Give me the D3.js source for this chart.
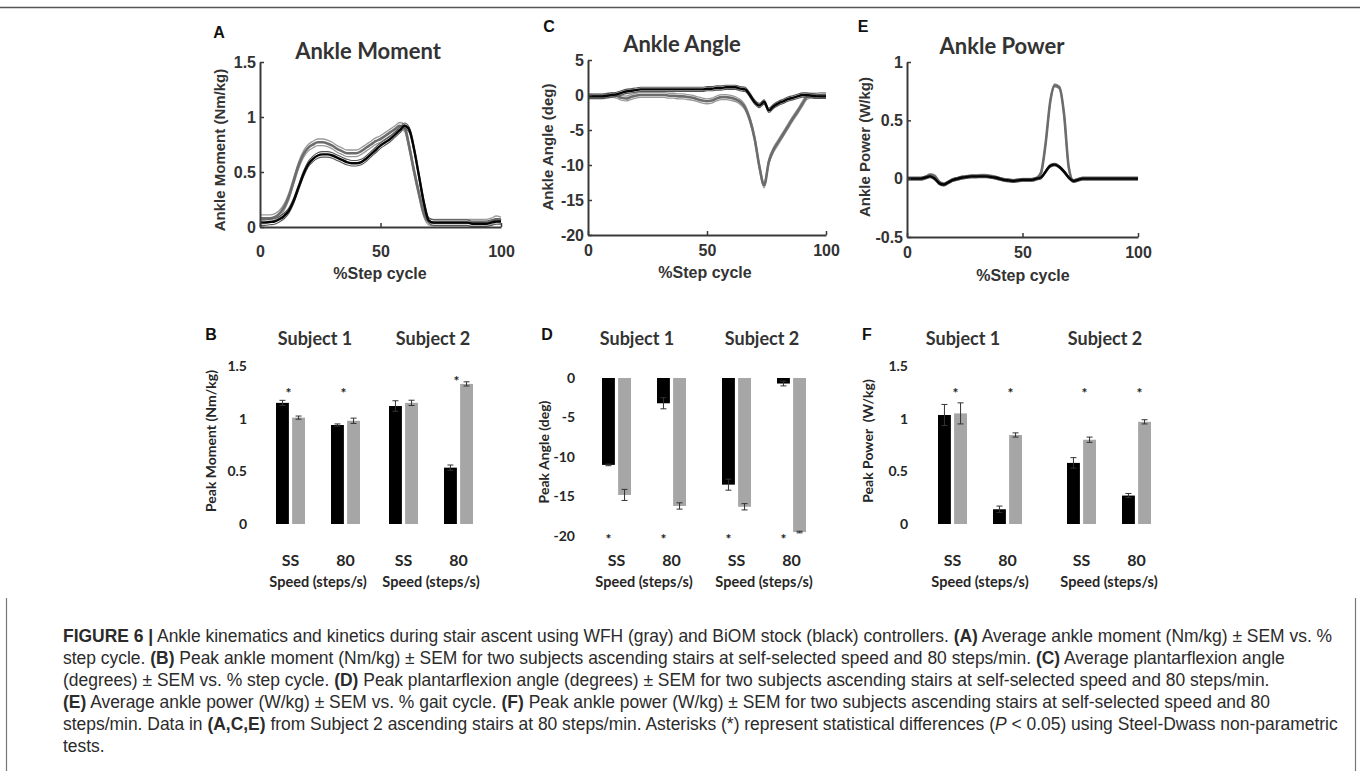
<!DOCTYPE html>
<html><head><meta charset="utf-8">
<script src="https://cdn.jsdelivr.net/npm/d3@7"></script>
<style>body{margin:0;background:#fff}svg{display:block}</style>
</head><body>
<svg id="c" width="1360" height="771"></svg>
<script>
// ---------- DATA ----------
const pct = [0,2,4,6,8,10,12,14,16,18,20,22,24,26,28,30,32,34,36,38,40,42,44,46,48,50,52,54,56,58,60,62,64,66,68,70,72,74,76,78,80,82,84,86,88,90,92,94,96,98,100];

const momentWFH = [0.08,0.08,0.08,0.09,0.12,0.18,0.28,0.42,0.56,0.66,0.72,0.75,0.77,0.77,0.76,0.74,0.71,0.69,0.67,0.67,0.67,0.69,0.72,0.75,0.78,0.80,0.83,0.86,0.89,0.92,0.90,0.72,0.50,0.30,0.12,0.05,0.04,0.04,0.04,0.04,0.04,0.04,0.04,0.04,0.04,0.04,0.04,0.04,0.05,0.07,0.06];
const momentBiOM = [0.04,0.04,0.045,0.05,0.07,0.10,0.15,0.24,0.36,0.48,0.57,0.62,0.65,0.66,0.66,0.65,0.63,0.61,0.59,0.58,0.58,0.59,0.62,0.66,0.70,0.74,0.77,0.80,0.84,0.88,0.92,0.88,0.70,0.46,0.22,0.06,0.04,0.04,0.04,0.04,0.04,0.04,0.04,0.04,0.03,0.03,0.03,0.03,0.04,0.05,0.05];
const momentSEM = {WFH: 0.03, BiOM: 0.025};

const angleWFH = [-0.2,-0.2,-0.2,-0.2,-0.1,0,-0.1,-0.4,-0.5,-0.3,-0.1,0,0,0,0,0,0,-0.1,-0.1,-0.2,-0.2,-0.3,-0.4,-0.6,-0.8,-0.9,-0.8,-0.5,-0.3,-0.3,-0.4,-0.6,-1.0,-1.8,-3.5,-6.2,-10.2,-12.9,-9.5,-7.8,-6.7,-5.6,-4.5,-3.4,-2.4,-1.3,-0.3,-0.1,-0.1,0,0];
const angleBiOM = [-0.2,-0.2,-0.2,-0.2,-0.1,0,0.1,0.3,0.5,0.6,0.7,0.8,0.8,0.8,0.8,0.8,0.8,0.8,0.8,0.8,0.8,0.8,0.8,0.8,0.8,0.9,0.9,1.0,1.0,1.1,1.1,1.1,0.9,0.8,0.0,-1.0,-1.5,-1.0,-2.2,-1.6,-1.2,-0.9,-0.6,-0.4,-0.2,0,0,-0.1,-0.2,-0.2,-0.2];
const angleSEM = {WFH: 0.35, BiOM: 0.3};

const powerWFH = [0,0,0,0,0.01,0.03,0.02,-0.03,-0.05,-0.03,-0.01,0,0.01,0.015,0.02,0.02,0.025,0.025,0.02,0.01,0,-0.01,-0.015,-0.02,-0.015,-0.01,-0.01,-0.01,0,0.05,0.3,0.66,0.8,0.78,0.55,0.1,-0.02,-0.01,0,0,0,0,0,0,0,0,0,0,0,0,0];
const powerBiOM = [0,0,0,0,0.01,0.02,0,-0.04,-0.05,-0.03,-0.01,0,0.01,0.015,0.02,0.02,0.02,0.02,0.015,0.01,0,-0.01,-0.015,-0.02,-0.015,-0.01,-0.01,-0.01,0,0.01,0.06,0.11,0.12,0.10,0.06,0.01,-0.02,-0.01,0,0,0,0,0,0,0,0,0,0,0,0,0];
const powerSEM = {WFH: 0.012, BiOM: 0.012};

const xTicksPct = [0, 50, 100];

const subjects = ["Subject 1", "Subject 2"];
const speeds = ["SS", "80"];
const controllers = ["BiOM", "WFH"];

const peakMomentBiOM = [1.15, 0.94, 1.12, 0.535];
const peakMomentBiOMsem = [0.024, 0.01, 0.05, 0.025];
const peakMomentWFH = [1.01, 0.98, 1.15, 1.33];
const peakMomentWFHsem = [0.015, 0.025, 0.025, 0.02];
const sigMoment = [1.28, 1.28, null, 1.39];

const peakAngleBiOM = [-11.0, -3.2, -13.5, -0.7];
const peakAngleBiOMsem = [0.1, 0.7, 0.7, 0.3];
const peakAngleWFH = [-14.8, -16.2, -16.3, -19.5];
const peakAngleWFHsem = [0.7, 0.4, 0.4, 0.1];
const sigAngle = [-20.0, -20.0, -20.0, -20.0];

const peakPowerBiOM = [1.035, 0.14, 0.58, 0.27];
const peakPowerBiOMsem = [0.1, 0.03, 0.05, 0.02];
const peakPowerWFH = [1.05, 0.845, 0.8, 0.97];
const peakPowerWFHsem = [0.1, 0.02, 0.025, 0.02];
const sigPower = [1.28, 1.28, 1.28, 1.28];

const captionLines = [
  [["FIGURE 6 |","b"],[" Ankle kinematics and kinetics during stair ascent using WFH (gray) and BiOM stock (black) controllers. ",""],["(A)","b"],[" Average ankle moment (Nm/kg) \u00b1 SEM vs. %",""]],
  [["step cycle. ",""],["(B)","b"],[" Peak ankle moment (Nm/kg) \u00b1 SEM for two subjects ascending stairs at self-selected speed and 80 steps/min. ",""],["(C)","b"],[" Average plantarflexion angle",""]],
  [["(degrees) \u00b1 SEM vs. % step cycle. ",""],["(D)","b"],[" Peak plantarflexion angle (degrees) \u00b1 SEM for two subjects ascending stairs at self-selected speed and 80 steps/min.",""]],
  [["(E)","b"],[" Average ankle power (W/kg) \u00b1 SEM vs. % gait cycle. ",""],["(F)","b"],[" Peak ankle power (W/kg) \u00b1 SEM for two subjects ascending stairs at self-selected speed and 80",""]],
  [["steps/min. Data in ",""],["(A,C,E)","b"],[" from Subject 2 ascending stairs at 80 steps/min. Asterisks (*) represent statistical differences (",""],["P","i"],[" < 0.05) using Steel-Dwass non-parametric",""]],
  [["tests.",""]]
];

// ---------- DRAW ----------
const svg = d3.select("#c");
const ARIAL = "'Liberation Sans', Arial, sans-serif";
const CAL = "Lato, 'Open Sans', sans-serif";

svg.append("line").attr("x1",0).attr("x2",1360).attr("y1",7.5).attr("y2",7.5).attr("stroke","#555").attr("stroke-width",1.5);
svg.append("line").attr("x1",6.5).attr("x2",6.5).attr("y1",598).attr("y2",771).attr("stroke","#777").attr("stroke-width",1.2);
svg.append("line").attr("x1",1355.5).attr("x2",1355.5).attr("y1",598).attr("y2",771).attr("stroke","#777").attr("stroke-width",1.2);

function ctext(g, x, y, txt, font, size, weight, fill, rot){
  const t = g.append("text").attr("x",x).attr("y",y).attr("text-anchor","middle")
    .attr("dominant-baseline","central").attr("font-family",font).attr("font-size",size)
    .attr("font-weight",weight).attr("fill",fill).style("white-space","pre").text(txt);
  if(rot) t.attr("transform",`rotate(-90,${x},${y})`);
  return t;
}

const linePanels = [
  {x0:260,x1:501,yTop:62,yBot:227,ydom:[0,1.5],yticks:[0,0.5,1,1.5],title:"Ankle Moment",tx:368,ty:50,letter:"A",lx:219,ly:32,
   ylabel:"Ankle Moment (Nm/kg)",ylx:219,yly:150,xlx:380,xly:273,xpad:19,gray:momentWFH,black:momentBiOM,sem:momentSEM},
  {x0:588,x1:826,yTop:60,yBot:235,ydom:[-20,5],yticks:[-20,-15,-10,-5,0,5],title:"Ankle Angle",tx:682,ty:43,letter:"C",lx:549,ly:26,
   ylabel:"Ankle Angle (deg)",ylx:547,yly:147,xlx:705,xly:272,xpad:10,gray:angleWFH,black:angleBiOM,sem:angleSEM},
  {x0:907,x1:1138,yTop:62,yBot:237,ydom:[-0.5,1],yticks:[-0.5,0,0.5,1],title:"Ankle Power",tx:1002,ty:45,letter:"E",lx:863,ly:26,
   ylabel:"Ankle Power (W/kg)",ylx:864,yly:147,xlx:1023,xly:275,xpad:10,gray:powerWFH,black:powerBiOM,sem:powerSEM}
];

linePanels.forEach(c=>{
  const g = svg.append("g");
  const x = d3.scaleLinear().domain([0,100]).range([c.x0,c.x1]);
  const y = d3.scaleLinear().domain(c.ydom).range([c.yBot,c.yTop]);
  const ln = (arr,off)=>d3.line().x((d,i)=>x(pct[i])).y(d=>y(d+off)).curve(d3.curveMonotoneX)(arr);
  // gray (WFH)
  [-1,1].forEach(s=>g.append("path").attr("d",ln(c.gray,s*c.sem.WFH)).attr("fill","none").attr("stroke","#9a9a9a").attr("stroke-width",1.3));
  g.append("path").attr("d",ln(c.gray,0)).attr("fill","none").attr("stroke","#6c6c6c").attr("stroke-width",2.6);
  // black (BiOM)
  [-1,1].forEach(s=>g.append("path").attr("d",ln(c.black,s*c.sem.BiOM)).attr("fill","none").attr("stroke","#555").attr("stroke-width",1.1));
  g.append("path").attr("d",ln(c.black,0)).attr("fill","none").attr("stroke","#050505").attr("stroke-width",2.4);

  const xa = d3.axisBottom(x).tickValues(xTicksPct).tickSizeInner(-4).tickSizeOuter(0).tickPadding(c.xpad);
  const ya = d3.axisLeft(y).tickValues(c.yticks).tickSizeInner(-4).tickSizeOuter(0).tickPadding(4).tickFormat(d=>String(d));
  const gx = g.append("g").attr("transform",`translate(0,${c.yBot})`).call(xa);
  const gy = g.append("g").attr("transform",`translate(${c.x0},0)`).call(ya);
  [gx,gy].forEach(a=>{
    a.select(".domain").attr("stroke","#3a3a3a").attr("stroke-width",2);
    a.selectAll(".tick line").attr("stroke","#3a3a3a").attr("stroke-width",1.5);
    a.selectAll(".tick text").attr("font-family",ARIAL).attr("font-size",16).attr("font-weight",700).attr("fill","#333");
  });
  ctext(g,c.tx,c.ty,c.title,CAL,22,700,"#333");
  ctext(g,c.lx,c.ly,c.letter,ARIAL,16,700,"#111");
  ctext(g,c.ylx,c.yly,c.ylabel,ARIAL,15,700,"#333",true);
  ctext(g,c.xlx,c.xly,"%Step cycle",ARIAL,16,700,"#333");
});

const barPanels = [
  {range:[261.5,487.5],ydom:[0,1.5],yr:[524,366],yticks:[0,0.5,1,1.5],tickRight:247,letter:"B",lx:211,ly:334,
   ylabel:"Peak Moment (Nm/kg)",ylx:210,yly:441,tOff:[-3,2],sigDx:-2,
   vals:{BiOM:peakMomentBiOM,WFH:peakMomentWFH},sem:{BiOM:peakMomentBiOMsem,WFH:peakMomentWFHsem},sig:sigMoment},
  {range:[584,824],ydom:[-20,0],yr:[536,378],yticks:[-20,-15,-10,-5,0],tickRight:575,letter:"D",lx:547,ly:334,
   ylabel:"Peak Angle (deg)",ylx:543,yly:452,tOff:[-7,-2],sigDx:-8,
   vals:{BiOM:peakAngleBiOM,WFH:peakAngleWFH},sem:{BiOM:peakAngleBiOMsem,WFH:peakAngleWFHsem},sig:sigAngle},
  {range:[915.5,1173.5],ydom:[0,1.5],yr:[524,366],yticks:[0,0.5,1,1.5],tickRight:908,letter:"F",lx:867,ly:334,
   ylabel:"Peak Power  (W/kg)",ylx:867,yly:441,tOff:[-17,-4],sigDx:3,
   vals:{BiOM:peakPowerBiOM,WFH:peakPowerWFH},sem:{BiOM:peakPowerBiOMsem,WFH:peakPowerWFHsem},sig:sigPower}
];
const barColor = {BiOM:"#000", WFH:"#a6a6a6"};

barPanels.forEach(c=>{
  const g = svg.append("g");
  const xs = d3.scaleBand().domain(subjects).range(c.range).padding(0);
  const xsp = d3.scalePoint().domain(speeds).range([xs.bandwidth()/2-27.5, xs.bandwidth()/2+27.5]);
  const xc = d3.scaleBand().domain(controllers).range([-14.5,14.5]).paddingInner(0.2);
  const y = d3.scaleLinear().domain(c.ydom).range(c.yr);
  const ya = d3.axisLeft(y).tickValues(c.yticks).tickSize(0).tickPadding(0).tickFormat(d=>String(d));
  const gy = g.append("g").attr("transform",`translate(${c.tickRight},0)`).call(ya);
  gy.select(".domain").remove();
  gy.selectAll(".tick text").attr("font-family",CAL).attr("font-size",14).attr("font-weight",700).attr("fill","#262626");

  const groups = [];
  subjects.forEach((s,si)=>speeds.forEach((sp,pi)=>groups.push({s,sp,idx:si*2+pi,cx:xs(s)+xsp(sp)})));
  groups.forEach(gr=>{
    controllers.forEach(ct=>{
      const v = c.vals[ct][gr.idx], e = c.sem[ct][gr.idx];
      const bx = gr.cx + xc(ct), bw = xc.bandwidth();
      g.append("rect").attr("x",bx).attr("width",bw)
        .attr("y",Math.min(y(0),y(v))).attr("height",Math.abs(y(v)-y(0))).attr("fill",barColor[ct]);
      const mx = bx+bw/2;
      g.append("line").attr("x1",mx).attr("x2",mx).attr("y1",y(v-e)).attr("y2",y(v+e)).attr("stroke","#333").attr("stroke-width",1);
      [v-e,v+e].forEach(t=>g.append("line").attr("x1",mx-3).attr("x2",mx+3).attr("y1",y(t)).attr("y2",y(t)).attr("stroke","#333").attr("stroke-width",1));
    });
    if(c.sig[gr.idx]!==null){
      g.append("text").attr("x",gr.cx+c.sigDx).attr("y",y(c.sig[gr.idx])).attr("dy","0.6em").attr("text-anchor","middle")
        .attr("font-family",CAL).attr("font-size",14).attr("font-weight",700).attr("fill","#222").text("*");
    }
    ctext(g,gr.cx,559,gr.sp,CAL,16,700,"#262626");
  });
  subjects.forEach((s,si)=>{
    const cx = xs(s)+xs.bandwidth()/2;
    ctext(g,cx+c.tOff[si],338,s,CAL,18,700,"#333");
    ctext(g,cx,581,"Speed (steps/s)",CAL,14.5,700,"#262626");
  });
  ctext(g,c.lx,c.ly,c.letter,ARIAL,16,700,"#111");
  ctext(g,c.ylx,c.yly,c.ylabel,CAL,14,700,"#262626",true);
});

// caption
const cap = svg.append("g").attr("font-family",ARIAL).attr("fill","#2b2b2b");
captionLines.forEach((segs,i)=>{
  const t = cap.append("text").attr("x",63).attr("y",642+i*22).attr("font-size",15).style("white-space","pre");
  segs.forEach(s=>t.append("tspan").text(s[0]).attr("font-weight",s[1]==="b"?700:400).attr("font-style",s[1]==="i"?"italic":null));
});
const w0 = cap.select("text").node().getComputedTextLength();
cap.selectAll("text").attr("font-size",15*1270/w0);
</script>
</body></html>
